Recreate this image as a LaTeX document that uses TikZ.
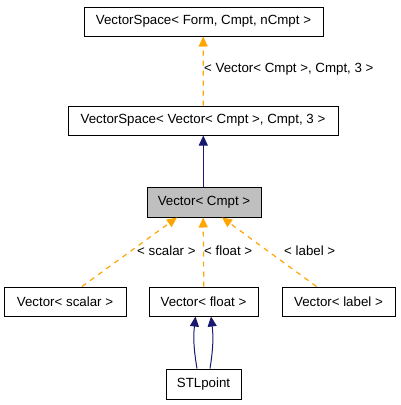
\documentclass[tikz,border=0pt]{standalone}
\usepackage{fontspec}
\setmainfont{Liberation Sans}
\usetikzlibrary{arrows.meta}
\definecolor{depcolor}{HTML}{FFA500}
\definecolor{inhcolor}{HTML}{191970}
\definecolor{curcolor}{HTML}{BFBFBF}
\begin{document}
\begin{tikzpicture}[x=1pt,y=-1pt]
		\tikzstyle{every node}+=[inner sep=0pt, font=\fontsize{13.3}{16}\selectfont]
		\tikzstyle{cls}=[draw=black, line width=1pt, minimum height=29pt]
		\tikzstyle{dep}=[depcolor, line width=1.2pt, dash pattern=on 5pt off 5pt, -{Triangle[length=10pt,width=9pt]}]
		\tikzstyle{inh}=[inhcolor, line width=1pt, -{Triangle[length=10pt,width=9pt]}]
		\useasboundingbox (0,0) rectangle (400,405);
		\node [cls, minimum width=239pt] (vsgen) at (203.5,21.5) {VectorSpace< Form, Cmpt, nCmpt >};
		\node [cls, minimum width=270pt] (vsvec) at (203,120.5) {VectorSpace< Vector< Cmpt >, Cmpt, 3 >};
		\node [cls, minimum width=114pt, minimum height=30pt, fill=curcolor] (vec) at (204,202) {Vector< Cmpt >};
		\node [cls, minimum width=122pt] (vscalar) at (65,301.5) {Vector< scalar >};
		\node [cls, minimum width=109pt] (vfloat) at (203.5,301.5) {Vector< float >};
		\node [cls, minimum width=113pt] (vlabel) at (338.5,301.5) {Vector< label >};
		\node [cls, minimum width=75pt, minimum height=30pt] (stl) at (203.5,384) {STLpoint};
		\draw [dep] ([xshift=0.3pt]vsvec.north) -- ([xshift=-0.3pt]vsgen.south);
		\node [anchor=west] (lvs) at (204,69) {< Vector< Cmpt >, Cmpt, 3 >};
		\draw [inh] ([xshift=-0.7pt]vec.north) -- ([xshift=0.3pt]vsvec.south);
		\draw [dep] ([xshift=17pt]vscalar.north) -- ([xshift=-27pt]vec.south);
		\node [anchor=west] (lscalar) at (137,251) {< scalar >};
		\draw [dep] ([xshift=0.3pt]vfloat.north) -- ([xshift=-0.8pt]vec.south);
		\node [anchor=west] (lfloat) at (204,251) {< float >};
		\draw [dep] ([xshift=-22pt]vlabel.north) -- ([xshift=18pt]vec.south);
		\node [anchor=west] (llabel) at (284,251) {< label >};
		\draw [inh] ([xshift=-6.5pt]stl.north) to[bend left=8] ([xshift=-8pt]vfloat.south);
		\draw [inh] ([xshift=6.5pt]stl.north) to[bend right=8] ([xshift=7.5pt]vfloat.south);
	\end{tikzpicture}
\end{document}
